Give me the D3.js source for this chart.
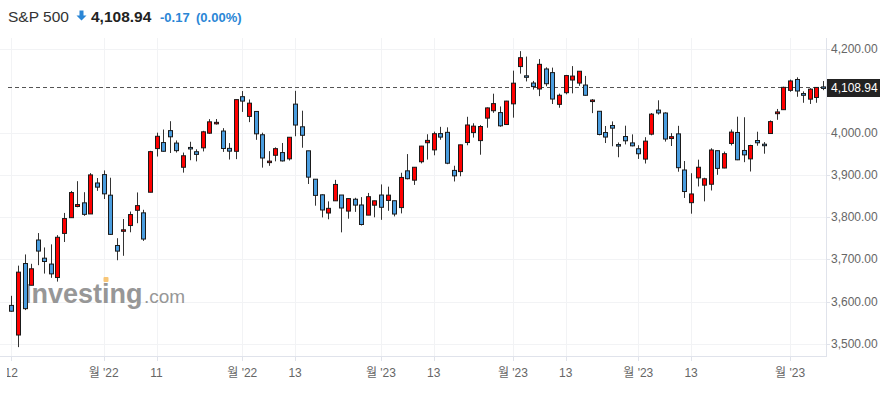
<!DOCTYPE html>
<html lang="ko">
	<head>
		<meta charset="utf-8">
		<title>S&amp;P 500 candlestick</title>
		<script src="https://cdn.jsdelivr.net/npm/d3@7"></script>
		<style type="text/css">
			body { margin: 0; background: #fff; }
			svg { display: block; font-family: "Liberation Sans", Arial, "Noto Sans CJK KR", sans-serif; }
		</style>
	</head>
	<body>
		<script type="text/javascript">

			//size of the picture
			var w = 888;
			var h = 393;

			//daily candles, Oct 12 2022 - Apr 11 2023
			var dates = ["10-12","10-13","10-14","10-17","10-18","10-19","10-20","10-21","10-24","10-25","10-26","10-27","10-28","10-31",
				"11-01","11-02","11-03","11-04","11-07","11-08","11-09","11-10","11-11","11-14","11-15","11-16","11-17","11-18","11-21","11-22","11-23","11-25","11-28","11-29","11-30",
				"12-01","12-02","12-05","12-06","12-07","12-08","12-09","12-12","12-13","12-14","12-15","12-16","12-19","12-20","12-21","12-22","12-23","12-27","12-28","12-29","12-30",
				"01-03","01-04","01-05","01-06","01-09","01-10","01-11","01-12","01-13","01-17","01-18","01-19","01-20","01-23","01-24","01-25","01-26","01-27","01-30","01-31",
				"02-01","02-02","02-03","02-06","02-07","02-08","02-09","02-10","02-13","02-14","02-15","02-16","02-17","02-21","02-22","02-23","02-24","02-27","02-28",
				"03-01","03-02","03-03","03-06","03-07","03-08","03-09","03-10","03-13","03-14","03-15","03-16","03-17","03-20","03-21","03-22","03-23","03-24","03-27","03-28","03-29","03-30","03-31",
				"04-03","04-04","04-05","04-06","04-10","04-11"];

			var open = [3590.8,3520.4,3690.4,3638.7,3746.3,3703.1,3689.1,3657.1,3762.0,3799.4,3826.0,3834.7,3808.3,3881.9,
				3901.8,3852.9,3733.3,3767.0,3780.7,3817.0,3810.9,3859.9,3963.7,3978.0,4006.4,3976.8,3919.3,3966.4,3956.2,3965.5,4000.3,4023.3,4005.4,3964.2,3957.2,
				4087.1,4040.2,4052.0,3996.6,3933.3,3947.8,3954.2,3939.3,4069.4,4015.5,3958.4,3890.9,3853.8,3810.5,3839.5,3853.3,3815.1,3843.3,3829.6,3805.5,3829.1,
				3853.3,3840.4,3839.7,3823.4,3910.8,3888.6,3932.4,3977.6,3960.6,3999.3,4002.3,3911.8,3909.0,3978.1,4001.7,3982.7,4036.1,4053.7,4049.3,4020.9,
				4070.1,4158.7,4136.7,4119.6,4105.4,4153.0,4144.3,4068.9,4096.6,4126.7,4119.5,4114.8,4077.4,4052.4,4001.8,4018.6,3973.2,3992.4,3977.2,
				3963.3,3938.7,3998.0,4055.2,4048.3,3987.6,3998.7,3912.8,3835.1,3894.0,3876.7,3878.9,3958.7,3917.5,3975.9,4002.0,3959.2,3939.2,3982.9,3974.1,3999.5,4046.7,4056.2,
				4102.2,4128.0,4094.5,4081.2,4085.2,4110.3];

			var high = [3613.6,3685.4,3712.0,3689.7,3762.8,3728.6,3736.0,3757.9,3810.7,3862.9,3886.2,3860.0,3905.4,3893.7,
				3911.8,3894.4,3750.6,3796.3,3814.0,3859.4,3818.2,3958.3,4001.5,4009.0,4028.8,3983.1,3954.2,3979.9,3962.0,4005.9,4033.8,4034.0,4012.3,3976.8,4080.1,
				4100.5,4080.5,4052.5,4001.5,3957.6,3966.6,3977.0,3990.7,4101.0,4053.8,3958.4,3890.9,3854.9,3838.2,3889.3,3853.3,3845.8,3846.7,3848.3,3858.2,3839.9,
				3878.5,3873.2,3839.7,3906.2,3950.6,3919.8,3970.1,3997.8,4004.0,4015.4,4014.2,3922.9,3973.0,4039.3,4023.9,4019.6,4061.6,4094.2,4063.9,4077.2,
				4149.0,4195.4,4182.4,4124.6,4176.5,4156.9,4156.2,4094.4,4138.9,4159.8,4148.1,4136.5,4081.5,4052.4,4017.4,4028.3,3978.3,4018.1,3997.5,
				3971.7,3990.8,4048.3,4078.5,4050.0,4000.4,4017.8,3934.1,3905.1,3937.3,3894.3,3964.5,3958.9,3956.6,4009.1,4039.5,4038.2,3972.7,4003.8,3979.2,4030.6,4057.9,4110.8,
				4127.7,4133.1,4099.7,4107.3,4109.5,4124.3];

			var low = [3575.9,3491.6,3579.7,3638.7,3686.5,3666.5,3656.4,3647.4,3741.6,3799.4,3824.1,3803.8,3808.3,3863.2,
				3843.8,3758.7,3698.2,3708.8,3764.7,3786.3,3744.2,3859.9,3944.8,3956.4,3953.2,3954.3,3906.5,3936.0,3933.3,3956.9,3998.7,4020.8,3955.8,3937.7,3938.6,
				4050.9,4026.6,3984.5,3918.4,3922.7,3933.4,3933.0,3935.3,3993.0,3965.7,3879.5,3827.9,3800.0,3795.6,3839.5,3764.5,3797.0,3813.2,3780.8,3805.5,3800.3,
				3794.3,3815.8,3802.4,3809.6,3890.4,3877.3,3928.5,3937.6,3947.7,3984.6,3926.6,3885.5,3897.9,3971.6,3989.8,3949.1,4013.3,4048.7,4015.6,4020.4,
				4037.2,4141.9,4123.4,4104.0,4088.4,4111.7,4069.7,4060.8,4092.7,4095.0,4113.0,4089.9,4048.0,3995.2,3976.9,3969.2,3943.1,3973.6,3969.0,
				3939.1,3928.2,3995.2,4044.6,3980.3,3969.8,3908.7,3846.3,3808.9,3873.6,3838.2,3864.1,3901.3,3916.9,3971.2,3936.2,3931.4,3909.2,3970.5,3951.5,3999.5,4032.1,4056.2,
				4098.8,4086.9,4072.6,4069.8,4072.6,4102.6];

			var close = [3577.0,3669.9,3583.1,3677.9,3720.0,3695.2,3665.8,3752.8,3797.3,3859.1,3830.6,3807.3,3901.1,3872.0,
				3856.1,3759.7,3719.9,3770.6,3806.8,3828.1,3748.6,3956.4,3992.9,3957.3,3991.7,3958.8,3946.6,3965.3,3949.9,4003.6,4027.3,4026.1,3963.9,3957.6,4080.1,
				4076.6,4071.7,3998.8,3941.3,3933.9,3963.5,3934.4,3990.6,4019.7,3995.3,3895.8,3852.4,3817.7,3821.6,3878.4,3822.4,3844.8,3829.3,3783.2,3849.3,3839.5,
				3824.1,3853.0,3808.1,3895.1,3892.1,3919.3,3969.6,3983.2,3999.1,3991.0,3928.9,3898.9,3972.6,4019.8,4017.0,4016.2,4060.4,4070.6,4017.8,4076.6,
				4119.2,4179.8,4136.5,4111.1,4164.0,4117.9,4081.5,4090.5,4137.3,4136.1,4147.6,4090.4,4079.1,3997.3,3991.1,4012.3,3970.0,3982.2,3970.2,
				3951.4,3981.4,4045.6,4048.4,3986.4,3992.0,3918.3,3861.6,3855.8,3919.3,3891.9,3960.3,3916.6,3951.6,4002.9,3937.0,3948.7,3971.0,3977.5,3971.3,4027.8,4050.8,4109.3,
				4124.5,4100.6,4090.4,4105.0,4109.1,4108.9];

			//x axis ticks and their labels
			var tickDates = ["10-12","11-01","11-11","12-01","12-13","01-03","01-13","02-01","02-13","03-01","03-13","04-03"];
			var tickLabels = ["12","월 '22","11","월 '22","13","월 '23","13","월 '23","13","월 '23","13","월 '23"];

			//y axis ticks
			var yTicks = [3500, 3600, 3700, 3800, 3900, 4000, 4200];

			var lastPrice = 4108.94;

			var candles = dates.map(function(d, i){
				return {date: d, open: open[i], high: high[i], low: low[i], close: close[i]};
			});

			var svg = d3.select("body")
						.append("svg")
						.attr("width", w)
						.attr("height", h);

			var plotLeft = 0, plotRight = 826, plotTop = 38, plotBottom = 356;

			var x = d3.scaleBand()
						.domain(dates)
						.range([8, 826.4])
						.padding(0);

			var y = d3.scaleLinear()
						.domain([3500, 4200])
						.range([343.6, 49.2]);

			function cx(d){ return x(d) + x.bandwidth() / 2; }

			//header
			var head = svg.append("g");
			head.append("text")
				.attr("x", 8).attr("y", 22)
				.style("font-size", "15.5px").style("fill", "#333")
				.text("S&P 500");
			head.append("path")
				.attr("d", "M79.5,10.5 h4 v5 h3 l-5,5 l-5,-5 h3 z")
				.style("fill", "#2a86d6");
			head.append("text")
				.attr("x", 91).attr("y", 22)
				.style("font-size", "15.5px").style("font-weight", "bold").style("fill", "#222")
				.text("4,108.94");
			head.append("text")
				.attr("x", 160).attr("y", 22)
				.style("font-size", "13px").style("font-weight", "bold").style("fill", "#2a86d6")
				.text("-0.17");
			head.append("text")
				.attr("x", 196).attr("y", 22)
				.style("font-size", "13px").style("font-weight", "bold").style("fill", "#2a86d6")
				.text("(0.00%)");

			//grid
			svg.append("g")
				.selectAll("line")
				.data(yTicks)
				.enter()
				.append("line")
				.attr("x1", plotLeft).attr("x2", plotRight)
				.attr("y1", function(d){ return Math.round(y(d)) + 0.5; })
				.attr("y2", function(d){ return Math.round(y(d)) + 0.5; })
				.style("stroke", "#f2f3f5");

			svg.append("g")
				.selectAll("line")
				.data(tickDates)
				.enter()
				.append("line")
				.attr("x1", function(d){ return Math.round(cx(d)) + 0.5; })
				.attr("x2", function(d){ return Math.round(cx(d)) + 0.5; })
				.attr("y1", plotTop).attr("y2", plotBottom)
				.style("stroke", "#f2f3f5");

			//watermark
			var wm = svg.append("g").style("opacity", 0.85);
			wm.append("text")
				.attr("x", 24).attr("y", 303)
				.style("font-size", "27px").style("font-weight", "bold").style("fill", "#858585")
				.text("Investing");
			wm.append("text")
				.attr("x", 144).attr("y", 303)
				.style("font-size", "19px").style("fill", "#858585")
				.text(".com");
			wm.append("rect")
				.attr("x", 103.5).attr("y", 277).attr("width", 5).attr("height", 5).attr("rx", 1)
				.style("fill", "#f7bd60");

			//dashed line for the last price
			svg.append("line")
				.attr("x1", 8).attr("x2", plotRight)
				.attr("y1", Math.round(y(lastPrice)) + 0.5).attr("y2", Math.round(y(lastPrice)) + 0.5)
				.style("stroke", "#555")
				.style("stroke-dasharray", "4,3");

			//candles: wicks
			svg.append("g")
				.selectAll("line")
				.data(candles)
				.enter()
				.append("line")
				.attr("x1", function(d){ return Math.round(cx(d.date)) + 0.5; })
				.attr("x2", function(d){ return Math.round(cx(d.date)) + 0.5; })
				.attr("y1", function(d){ return y(d.high); })
				.attr("y2", function(d){ return y(d.low); })
				.style("stroke", "#333")
				.style("stroke-width", 1);

			//candles: bodies (red = up, blue = down)
			svg.append("g")
				.selectAll("rect")
				.data(candles)
				.enter()
				.append("rect")
				.attr("x", function(d){ return Math.round(cx(d.date)) - 1.5; })
				.attr("width", 4)
				.attr("y", function(d){ return y(Math.max(d.open, d.close)); })
				.attr("height", function(d){ return Math.max(1.5, Math.abs(y(d.open) - y(d.close))); })
				.style("fill", function(d){ return d.close >= d.open ? "#ff0000" : "#4a9ddf"; })
				.style("stroke", "#1a1a1a")
				.style("stroke-width", 1);

			//right axis
			svg.append("line")
				.attr("x1", plotRight + 0.5).attr("x2", plotRight + 0.5)
				.attr("y1", plotTop).attr("y2", plotBottom)
				.style("stroke", "#e0e3eb");

			var yAxis = svg.append("g");
			yAxis.selectAll("line")
				.data(yTicks)
				.enter()
				.append("line")
				.attr("x1", plotRight).attr("x2", plotRight + 4)
				.attr("y1", function(d){ return Math.round(y(d)) + 0.5; })
				.attr("y2", function(d){ return Math.round(y(d)) + 0.5; })
				.style("stroke", "#e0e3eb");
			yAxis.selectAll("text")
				.data(yTicks)
				.enter()
				.append("text")
				.attr("x", 831)
				.attr("y", function(d){ return y(d) + 4; })
				.style("font-size", "12px").style("fill", "#666")
				.text(function(d){ return d3.format(",.2f")(d); });

			//last price box
			svg.append("rect")
				.attr("x", 827).attr("y", y(lastPrice) - 8.5)
				.attr("width", 53).attr("height", 18)
				.style("fill", "#222");
			svg.append("text")
				.attr("x", 831).attr("y", y(lastPrice) + 4.5)
				.style("font-size", "12px").style("fill", "#fff")
				.text(d3.format(",.2f")(lastPrice));

			//bottom axis
			svg.append("line")
				.attr("x1", plotLeft).attr("x2", plotRight + 1)
				.attr("y1", plotBottom + 0.5).attr("y2", plotBottom + 0.5)
				.style("stroke", "#e0e3eb");

			var xAxis = svg.append("g");
			xAxis.selectAll("line")
				.data(tickDates)
				.enter()
				.append("line")
				.attr("x1", function(d){ return Math.round(cx(d)) + 0.5; })
				.attr("x2", function(d){ return Math.round(cx(d)) + 0.5; })
				.attr("y1", plotBottom).attr("y2", plotBottom + 5)
				.style("stroke", "#e0e3eb");

			svg.append("clipPath").attr("id", "xclip")
				.append("rect").attr("x", 7).attr("y", 356).attr("width", 881).attr("height", 37);

			xAxis.append("g")
				.attr("clip-path", "url(#xclip)")
				.selectAll("text")
				.data(tickDates)
				.enter()
				.append("text")
				.attr("x", function(d){ return cx(d); })
				.attr("y", 377)
				.attr("text-anchor", "middle")
				.style("font-size", "12px").style("fill", "#666")
				.text(function(d, i){ return tickLabels[i]; });

		</script>
	</body>
</html>
